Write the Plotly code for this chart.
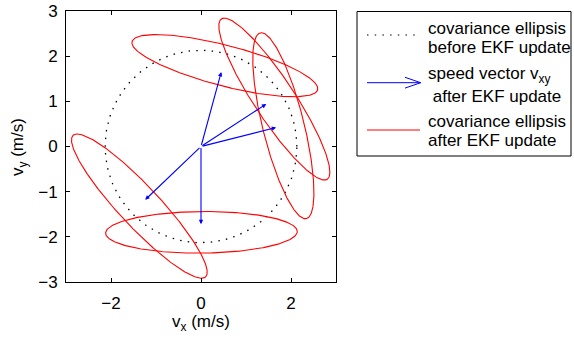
import numpy as np
import plotly.graph_objects as go

# ---- data ----
arrow_x = [0.45, 1.45, 1.67, -1.24, 0.0]
arrow_y = [1.65, 0.94, 0.42, -1.18, -1.72]

ell_cx = [0.53, 1.63, 1.83, -1.37, 0.01]
ell_cy = [1.79, 1.05, 0.46, -1.32, -1.90]
ell_a = [2.13, 2.13, 2.12, 2.15, 2.13]
ell_b = [0.45, 0.45, 0.46, 0.45, 0.46]
ell_ang = [-14.5, -56.5, -76.0, -46.8, 0.5]

circle_r = 2.13

x_ticks = [-2, 0, 2]
y_ticks = [-3, -2, -1, 0, 1, 2, 3]

legend_lines = [
    ["covariance ellipsis", "before EKF update"],
    ["speed vector v<sub>xy</sub>", " after EKF update"],
    ["covariance ellipsis", "after EKF update"],
]

FONT = "Liberation Sans, Arial, Helvetica, sans-serif"
FS = 17
W, H = 574, 338
L, R, T, B = 66, 336, 11, 282

def px(x):
    return (x - L) / (R - L)

def py(y):
    return (B - y) / (B - T)

fig = go.Figure()

# dotted circle (before update)
t = np.linspace(0, 2 * np.pi, 400)
fig.add_trace(go.Scatter(x=circle_r * np.cos(t), y=circle_r * np.sin(t), mode="lines",
                         line=dict(color="black", width=1.3, dash="1.5px,6.2px"),
                         showlegend=False, hoverinfo="skip"))

# red ellipses
for cx, cy, a, b, ang in zip(ell_cx, ell_cy, ell_a, ell_b, ell_ang):
    th = np.deg2rad(ang)
    u, v = a * np.cos(t), b * np.sin(t)
    xs = cx + u * np.cos(th) - v * np.sin(th)
    ys = cy + u * np.sin(th) + v * np.cos(th)
    fig.add_trace(go.Scatter(x=xs, y=ys, mode="lines", line=dict(color="#ff0000", width=1.1),
                             showlegend=False, hoverinfo="skip"))

# blue arrows
for ax_, ay_ in zip(arrow_x, arrow_y):
    fig.add_annotation(x=ax_, y=ay_, ax=0, ay=0, xref="x", yref="y", axref="x", ayref="y",
                       text="", showarrow=True, arrowhead=2, arrowsize=0.8, arrowwidth=1.1,
                       arrowcolor="#0000ff", standoff=0)

# axes titles
fig.add_annotation(x=px(201), y=py(323), xref="paper", yref="paper", text="v<sub>x</sub> (m/s)",
                   showarrow=False, xanchor="center", yanchor="middle",
                   font=dict(family=FONT, size=FS, color="black"))
fig.add_annotation(x=px(19), y=py(147), xref="paper", yref="paper", text="v<sub>y</sub> (m/s)",
                   showarrow=False, xanchor="center", yanchor="middle", textangle=-90,
                   font=dict(family=FONT, size=FS, color="black"))

# manual legend
shapes = []
shapes.append(dict(type="rect", xref="paper", yref="paper", x0=px(357), x1=px(571), y0=py(156), y1=py(11.5),
                   line=dict(color="black", width=1), fillcolor="white", layer="above"))
shapes.append(dict(type="line", xref="paper", yref="paper", x0=px(367), x1=px(420), y0=py(35), y1=py(35),
                   line=dict(color="black", width=1.2, dash="1.5px,6.2px"), layer="above"))
shapes.append(dict(type="line", xref="paper", yref="paper", x0=px(367), x1=px(420.5), y0=py(82.7), y1=py(82.7),
                   line=dict(color="#0000ff", width=1), layer="above"))
shapes.append(dict(type="path", xref="paper", yref="paper",
                   path=f"M {px(405)},{py(77.3)} L {px(420.7)},{py(82.7)} L {px(405)},{py(88.1)}",
                   line=dict(color="#0000ff", width=1), layer="above"))
shapes.append(dict(type="line", xref="paper", yref="paper", x0=px(367), x1=px(420), y0=py(130), y1=py(130),
                   line=dict(color="#ff0000", width=1.1), layer="above"))

text_pos = [(426, 28), (426, 47.7), (426, 75), (426, 96.7), (426, 121.7), (426, 140.7)]
flat = [s for pair in legend_lines for s in pair]
for (tx, ty), s in zip(text_pos, flat):
    fig.add_annotation(x=px(tx), y=py(ty), xref="paper", yref="paper", text=s, showarrow=False,
                       xanchor="left", yanchor="middle", font=dict(family=FONT, size=FS, color="black"))

axis_common = dict(showgrid=False, zeroline=False, showline=True, linecolor="black", linewidth=1,
                   mirror="allticks", ticks="inside", ticklen=4, tickcolor="black", tickwidth=1,
                   automargin=False,
                   tickfont=dict(family=FONT, size=FS, color="black"))

fig.update_layout(
    width=W, height=H, margin=dict(l=L, r=W - R, t=T, b=H - B),
    paper_bgcolor="white", plot_bgcolor="white", showlegend=False,
    xaxis=dict(range=[-3, 3], tickvals=x_ticks, ticklabelstandoff=6, **axis_common),
    yaxis=dict(range=[-3, 3], tickvals=y_ticks, ticklabelstandoff=4, **axis_common),
    shapes=shapes,
)

fig.write_html("out.html", config={"displayModeBar": False},
               post_script="document.body.style.margin='0px';document.body.style.padding='0px';")
